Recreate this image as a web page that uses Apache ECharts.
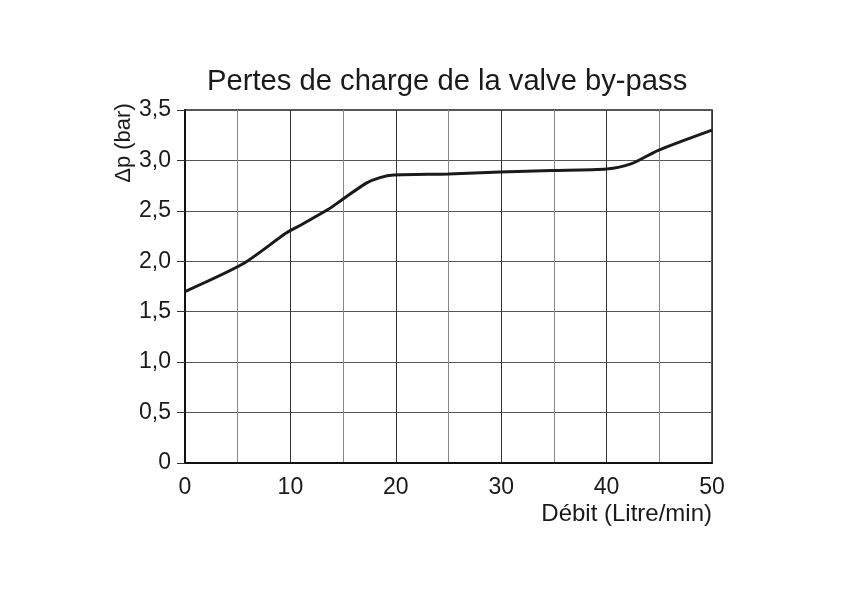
<!DOCTYPE html>
<html>
<head>
<meta charset="utf-8">
<script src="https://cdn.jsdelivr.net/npm/echarts@6/dist/echarts.min.js"></script>
<style>html,body{margin:0;padding:0;background:#fff}#c{width:842px;height:595px}</style>
</head>
<body>
<div id="c"></div>
<script>
const titleText = 'Pertes de charge de la valve by-pass';
const xName = 'Débit (Litre/min)';
const yName = 'Δp (bar)';
const flow = [0, 5.5, 9.6, 11.0, 13.6, 14.9, 17.2, 18.5, 19.8, 25.0, 29.9, 34.8, 40.0, 42.3, 44.9, 50];
const dp   = [1.70, 1.975, 2.28, 2.36, 2.515, 2.61, 2.775, 2.83, 2.855, 2.865, 2.885, 2.90, 2.915, 2.965, 3.10, 3.30];

const chart = echarts.init(document.getElementById('c'), null, {renderer: 'canvas'});
const ff = '"Liberation Sans", Arial, sans-serif';
chart.setOption({
  animation: false,
  backgroundColor: '#fff',
  title: {
    text: titleText, left: 202, top: 62,
    textStyle: {fontFamily: ff, fontSize: 29.2, fontWeight: 'normal', color: '#1a1a1a'}
  },
  grid: {left: 185, right: 130, top: 110, bottom: 132, show: true, borderColor: '#222', borderWidth: 1.5},
  graphic: [{
    type: 'text', x: 124, y: 143, rotation: Math.PI / 2,
    style: {text: yName, fontFamily: ff, fontSize: 22, fill: '#1a1a1a', align: 'center', verticalAlign: 'middle'}
  }],
  xAxis: {
    type: 'value', min: 0, max: 50, interval: 5,
    name: xName, nameLocation: 'end', nameGap: 0,
    nameTextStyle: {fontFamily: ff, fontSize: 24, color: '#1a1a1a', align: 'right', verticalAlign: 'top', padding: [39, 0, 0, 0]},
    axisLine: {show: true, onZero: false, lineStyle: {color: '#111', width: 2}},
    axisTick: {show: false},
    axisLabel: {fontFamily: ff, fontSize: 23, color: '#1a1a1a', margin: 13,
      formatter: v => (v % 10 === 0 ? String(v) : '')},
    splitLine: {show: true, lineStyle: {color: ['#333', '#888'], width: 1}}
  },
  yAxis: {
    type: 'value', min: 0, max: 3.5, interval: 0.5,
    axisLine: {show: true, lineStyle: {color: '#111', width: 2}},
    axisTick: {show: true, length: 8, lineStyle: {color: '#333', width: 1}},
    axisLabel: {fontFamily: ff, fontSize: 23, color: '#1a1a1a', margin: 14,
      formatter: v => (v === 0 ? '0' : v.toFixed(1).replace('.', ','))},
    splitLine: {show: true, lineStyle: {color: '#555', width: 1}}
  },
  series: [{
    type: 'line', data: flow.map((x, i) => [x, dp[i]]),
    smooth: 0.25, symbol: 'none',
    lineStyle: {color: '#1a1a1a', width: 3}
  }]
});
</script>
</body>
</html>
